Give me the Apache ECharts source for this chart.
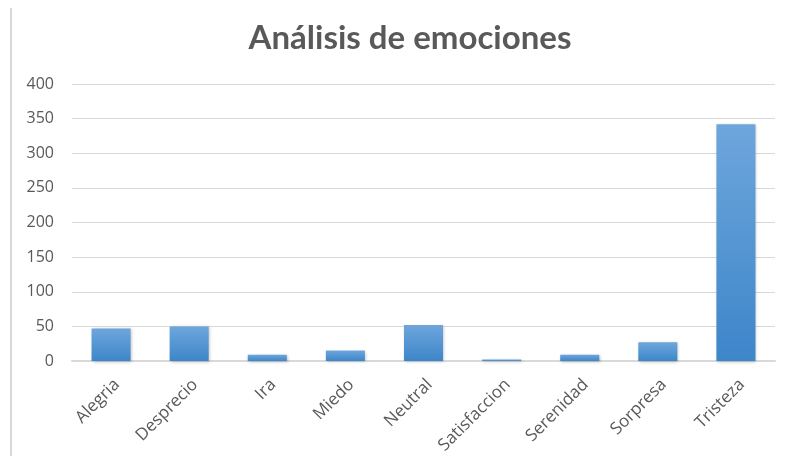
<!DOCTYPE html>
<html>
<head>
<meta charset="utf-8">
<script src="https://cdn.jsdelivr.net/npm/echarts@6/dist/echarts.min.js"></script>
<style>
  html, body { margin: 0; padding: 0; background: #fff; }
  #frame { position: absolute; left: 10px; top: 8px; width: 2px; height: 448px; background: #d9d9d9; }
  #chart { width: 785px; height: 456px; }
</style>
</head>
<body>
<div id="chart"></div>
<div id="frame"></div>
<script>
// Emotion counts
const categories = ['Alegria', 'Desprecio', 'Ira', 'Miedo', 'Neutral', 'Satisfaccion', 'Serenidad', 'Sorpresa', 'Tristeza'];
const counts = [47, 50, 9, 15, 52, 2, 9, 27, 342];
const yTicks = [0, 50, 100, 150, 200, 250, 300, 350, 400];

const chart = echarts.init(document.getElementById('chart'), null, { renderer: 'canvas' });
const labelFont = '"Open Sans", Lato, sans-serif';

chart.setOption({
  animation: false,
  title: {
    text: 'Análisis de emociones',
    left: 405,
    top: 17,
    textAlign: 'center',
    textStyle: { fontFamily: 'Lato, sans-serif', fontSize: 33, fontWeight: 'bold', color: '#595959' }
  },
  grid: { left: 72, right: 10, top: 84, bottom: 95, outerBoundsMode: 'none', containLabel: false },
  xAxis: {
    type: 'category',
    data: categories,
    axisLine: { lineStyle: { color: '#d9d9d9', width: 2 } },
    axisTick: { show: false },
    axisLabel: {
      rotate: 45, color: '#595959', fontFamily: labelFont, fontSize: 17,
      margin: 15, interval: 0, verticalAlign: 'top'
    }
  },
  yAxis: {
    type: 'value',
    min: yTicks[0],
    max: yTicks[yTicks.length - 1],
    interval: 50,
    axisLine: { show: false },
    axisTick: { show: false },
    splitLine: { lineStyle: { color: '#d9d9d9', width: 1 } },
    axisLabel: { color: '#595959', fontFamily: labelFont, fontSize: 16, margin: 18 }
  },
  series: [{
    type: 'bar',
    data: counts,
    barWidth: '50%',
    itemStyle: {
      color: new echarts.graphic.LinearGradient(0, 0, 0, 1, [
        { offset: 0, color: '#6ea6dc' },
        { offset: 1, color: '#3d86c9' }
      ]),
      shadowColor: 'rgba(0,0,0,0.25)',
      shadowBlur: 3,
      shadowOffsetX: 1,
      shadowOffsetY: 1
    }
  }]
});
</script>
</body>
</html>
